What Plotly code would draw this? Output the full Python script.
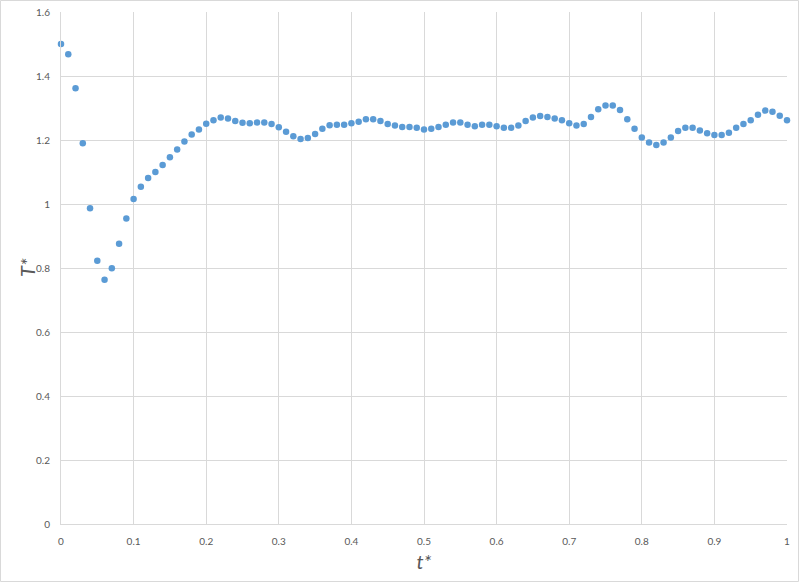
import plotly.graph_objects as go

# dimensionless time t* and temperature T*
t_star = [round(i * 0.01, 2) for i in range(101)]
T_star = [1.500, 1.468, 1.362, 1.190, 0.987, 0.823, 0.763, 0.799, 0.876, 0.955,
          1.016, 1.054, 1.081, 1.100, 1.122, 1.146, 1.170, 1.195, 1.217, 1.233,
          1.251, 1.262, 1.270, 1.267, 1.259, 1.254, 1.252, 1.255, 1.255, 1.250,
          1.240, 1.226, 1.212, 1.203, 1.206, 1.219, 1.235, 1.246, 1.248, 1.248,
          1.252, 1.257, 1.265, 1.265, 1.259, 1.250, 1.245, 1.241, 1.241, 1.238,
          1.233, 1.235, 1.241, 1.248, 1.255, 1.255, 1.248, 1.243, 1.248, 1.248,
          1.243, 1.238, 1.238, 1.245, 1.259, 1.270, 1.275, 1.272, 1.267, 1.262,
          1.252, 1.245, 1.250, 1.272, 1.296, 1.308, 1.308, 1.294, 1.265, 1.235,
          1.208, 1.192, 1.184, 1.192, 1.208, 1.228, 1.238, 1.238, 1.230, 1.221,
          1.216, 1.216, 1.223, 1.238, 1.250, 1.262, 1.279, 1.292, 1.288, 1.276,
          1.262]

grey = "#595959"
grid = "#D9D9D9"

fig = go.Figure()
fig.add_trace(go.Scatter(x=t_star, y=T_star, mode="markers",
                         marker=dict(size=6.5, color="#5B9BD5"),
                         showlegend=False, cliponaxis=False))

W, H = 800, 583
ml, mr, mt, mb = 61, 13, 12, 59
pw = W - ml - mr
ph = H - mt - mb

fig.update_layout(
    width=W, height=H,
    margin=dict(l=ml, r=mr, t=mt, b=mb, autoexpand=False),
    paper_bgcolor="white", plot_bgcolor="white",
    font=dict(family="Lato, Open Sans, sans-serif", size=10, color=grey),
)
fig.update_xaxes(range=[0, 1], dtick=0.1, tickformat="~g",
                 showgrid=True, gridcolor=grid, gridwidth=1,
                 showline=True, linecolor=grid, mirror=False,
                 zeroline=False, ticks="", ticklabelstandoff=8, automargin=False,
                 title=dict(text="<i>t*</i>", font=dict(size=20, color=grey), standoff=8))
fig.update_yaxes(range=[0, 1.6], dtick=0.2, tickformat="~g",
                 showgrid=True, gridcolor=grid, gridwidth=1,
                 showline=True, linecolor=grid,
                 zeroline=False, ticks="", ticklabelstandoff=8, automargin=False)

# y axis title placed as an annotation to sit where the original has it
fig.add_annotation(text="<i>T*</i>", xref="paper", yref="paper",
                   x=-(ml - 27) / pw, y=0.5, xanchor="center", yanchor="middle",
                   textangle=-90, showarrow=False,
                   font=dict(size=20, color=grey))

# faint border around the whole chart area
fig.add_shape(type="rect", xref="paper", yref="paper",
              x0=-(ml - 0.5) / pw, x1=1 + (mr - 1.5) / pw,
              y0=-(mb - 1.5) / ph, y1=1 + (mt - 0.5) / ph,
              line=dict(color=grid, width=1), layer="below")

fig.write_html("out.html", config={"displayModeBar": False},
               post_script="document.body.style.margin='0';")
